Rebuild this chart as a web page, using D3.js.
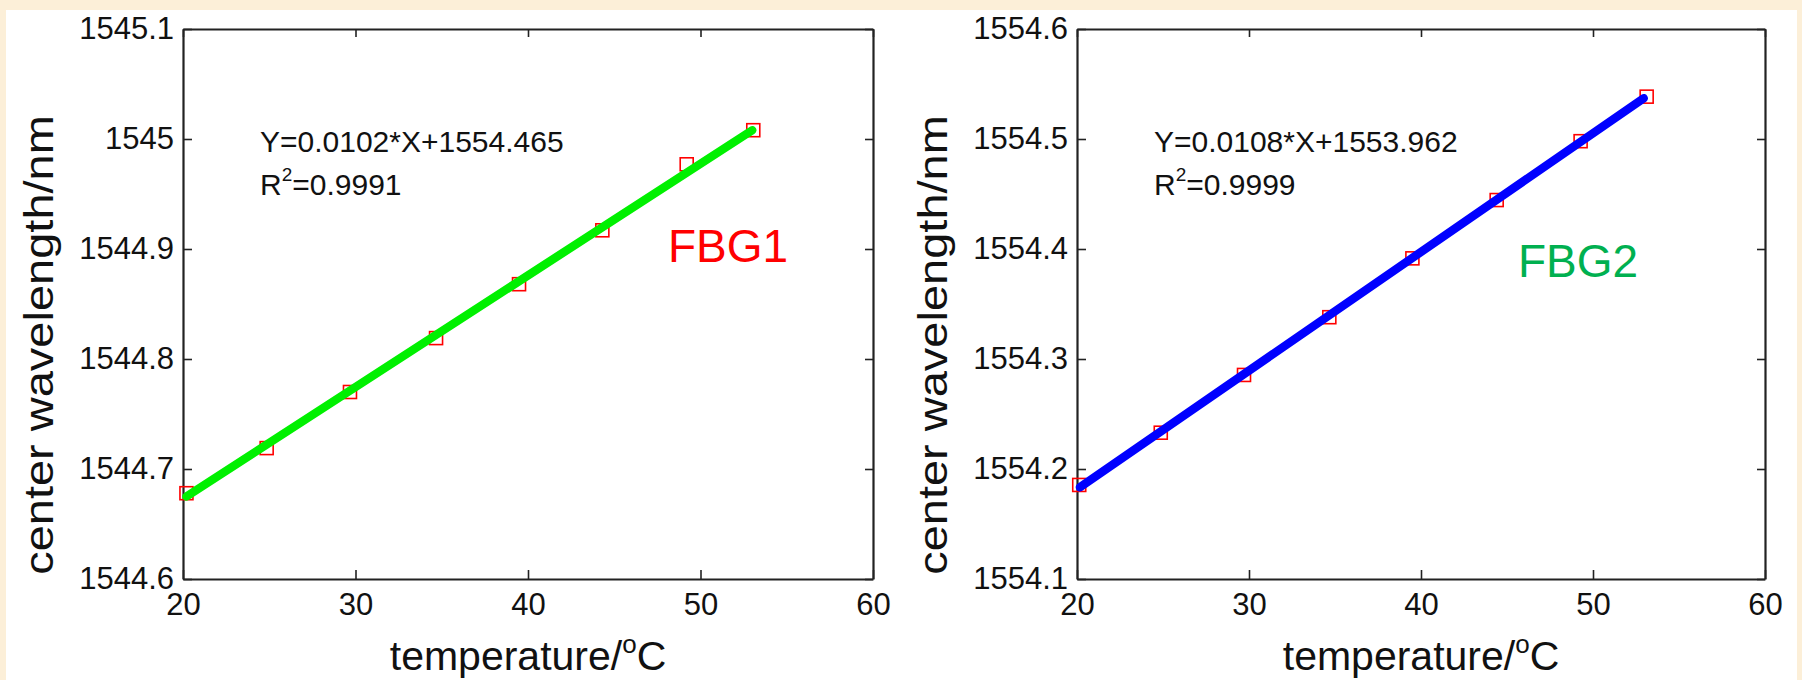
<!DOCTYPE html>
<html>
<head>
<meta charset="utf-8">
<script src="https://cdn.jsdelivr.net/npm/d3@7"></script>
<style>
  html, body { margin: 0; padding: 0; background: #fcefd8; }
  svg { display: block; font-family: "Liberation Sans", Arial, sans-serif; }
</style>
</head>
<body>
<svg id="chart"></svg>
<script>
const width = 1802;
const height = 680;

// shared x axis
const tempTicks = [20, 30, 40, 50, 60];
const tempLabels = ["20", "30", "40", "50", "60"];

// FBG1 measured points and fitted line ends
const fbg1Temp = [20.2, 24.85, 29.68, 34.67, 39.48, 44.31, 49.2, 53.06];
const fbg1Wave = [1544.678, 1544.719, 1544.770, 1544.819, 1544.868, 1544.917, 1544.977, 1545.008];
const fbg1FitTemp = [20.2, 53.0];
const fbg1FitWave = [1544.675, 1545.008];
const fbg1Ticks = [1544.6, 1544.7, 1544.8, 1544.9, 1545.0, 1545.1];
const fbg1TickLabels = ["1544.6", "1544.7", "1544.8", "1544.9", "1545", "1545.1"];

// FBG2 measured points and fitted line ends
const fbg2Temp = [20.13, 24.87, 29.71, 34.67, 39.5, 44.4, 49.28, 53.12];
const fbg2Wave = [1554.1855, 1554.233, 1554.2855, 1554.338, 1554.3915, 1554.4445, 1554.498, 1554.5385];
const fbg2FitTemp = [20.17, 52.95];
const fbg2FitWave = [1554.1834, 1554.537];
const fbg2Ticks = [1554.1, 1554.2, 1554.3, 1554.4, 1554.5, 1554.6];
const fbg2TickLabels = ["1554.1", "1554.2", "1554.3", "1554.4", "1554.5", "1554.6"];

const svg = d3.select('#chart')
  .attr('width', width)
  .attr('height', height);

// white sheet with the beige edge around it
svg.append('rect')
  .attr('x', 6).attr('y', 10)
  .attr('width', 1791).attr('height', height - 10)
  .attr('fill', '#ffffff');

function drawPanel(p) {
  const x = d3.scaleLinear().domain([20, 60]).range([p.left, p.right]);
  const y = d3.scaleLinear().domain([p.yTicks[0], p.yTicks[p.yTicks.length - 1]]).range([579, 29]);
  const g = svg.append('g');

  const axisColor = '#222';
  const tickFont = '31px';

  // bottom
  g.append('g')
    .attr('transform', `translate(0,${y.range()[0]})`)
    .call(d3.axisBottom(x).tickValues(tempTicks)
      .tickFormat((d, i) => tempLabels[i])
      .tickSizeInner(-9).tickSizeOuter(0).tickPadding(14));
  // top
  g.append('g')
    .attr('transform', `translate(0,${y.range()[1]})`)
    .call(d3.axisTop(x).tickValues(tempTicks).tickFormat('')
      .tickSizeInner(-8).tickSizeOuter(0));
  // left
  g.append('g')
    .attr('transform', `translate(${p.left},0)`)
    .call(d3.axisLeft(y).tickValues(p.yTicks)
      .tickFormat((d, i) => p.yLabels[i])
      .tickSizeInner(-9).tickSizeOuter(0).tickPadding(9));
  // right
  g.append('g')
    .attr('transform', `translate(${p.right},0)`)
    .call(d3.axisRight(y).tickValues(p.yTicks).tickFormat('')
      .tickSizeInner(-8).tickSizeOuter(0));

  g.selectAll('.domain').attr('stroke', axisColor).attr('stroke-width', 2.2);
  g.selectAll('.tick line').attr('stroke', axisColor).attr('stroke-width', 1.6);
  g.selectAll('.tick text')
    .attr('fill', '#111')
    .style('font-size', tickFont)
    .style('font-family', '"Liberation Sans", Arial, sans-serif');

  // measured points, red hollow squares
  const pts = p.temp.map((t, i) => [t, p.wave[i]]);
  g.selectAll('rect.pt').data(pts)
    .enter().append('rect')
    .attr('class', 'pt')
    .attr('x', d => x(d[0]) - 6.5)
    .attr('y', d => y(d[1]) - 6.5)
    .attr('width', 13)
    .attr('height', 13)
    .attr('fill', 'none')
    .attr('stroke', '#ff0000')
    .attr('stroke-width', 1.6);

  // fitted line on top of the squares
  const fit = p.fitTemp.map((t, i) => [t, p.fitWave[i]]);
  g.append('path')
    .datum(fit)
    .attr('d', d3.line().x(d => x(d[0])).y(d => y(d[1])))
    .attr('fill', 'none')
    .attr('stroke', p.lineColor)
    .attr('stroke-width', 8.5)
    .attr('stroke-linecap', 'round');

  // fit equation
  g.append('text')
    .attr('x', p.left + 77)
    .attr('y', 152)
    .attr('fill', '#111')
    .style('font-size', '30px')
    .text(p.equation);
  const r2 = g.append('text')
    .attr('x', p.left + 77)
    .attr('y', 195)
    .attr('fill', '#111')
    .style('font-size', '30px');
  r2.append('tspan').text('R');
  r2.append('tspan').attr('dy', -14).style('font-size', '19px').text('2');
  r2.append('tspan').attr('dy', 14).text(p.r2);

  // sensor name
  g.append('text')
    .attr('x', p.nameX)
    .attr('y', p.nameY)
    .attr('fill', p.nameColor)
    .style('font-size', '46px')
    .text(p.name);

  // axis titles
  const cx = (p.left + p.right) / 2;
  const xt = g.append('text')
    .attr('x', cx)
    .attr('y', 670)
    .attr('text-anchor', 'middle')
    .attr('fill', '#111')
    .style('font-size', '41px');
  xt.append('tspan').text('temperature/');
  xt.append('tspan').attr('dy', -17).style('font-size', '26px').text('o');
  xt.append('tspan').attr('dy', 17).text('C');

  // rotated title is long but narrow in the picture
  g.append('text')
    .attr('transform', `translate(${p.left - 130},345) rotate(-90) scale(1,0.85)`)
    .attr('text-anchor', 'middle')
    .attr('fill', '#111')
    .style('font-size', '47px')
    .text('center wavelength/nm');
}

drawPanel({
  left: 183, right: 873,
  temp: fbg1Temp, wave: fbg1Wave,
  fitTemp: fbg1FitTemp, fitWave: fbg1FitWave,
  yTicks: fbg1Ticks, yLabels: fbg1TickLabels,
  lineColor: '#00f000',
  equation: 'Y=0.0102*X+1554.465', r2: '=0.9991',
  name: 'FBG1', nameColor: '#ff0000', nameX: 668, nameY: 262
});

drawPanel({
  left: 1077, right: 1765,
  temp: fbg2Temp, wave: fbg2Wave,
  fitTemp: fbg2FitTemp, fitWave: fbg2FitWave,
  yTicks: fbg2Ticks, yLabels: fbg2TickLabels,
  lineColor: '#0000ff',
  equation: 'Y=0.0108*X+1553.962', r2: '=0.9999',
  name: 'FBG2', nameColor: '#00b050', nameX: 1518, nameY: 277
});
</script>
</body>
</html>
